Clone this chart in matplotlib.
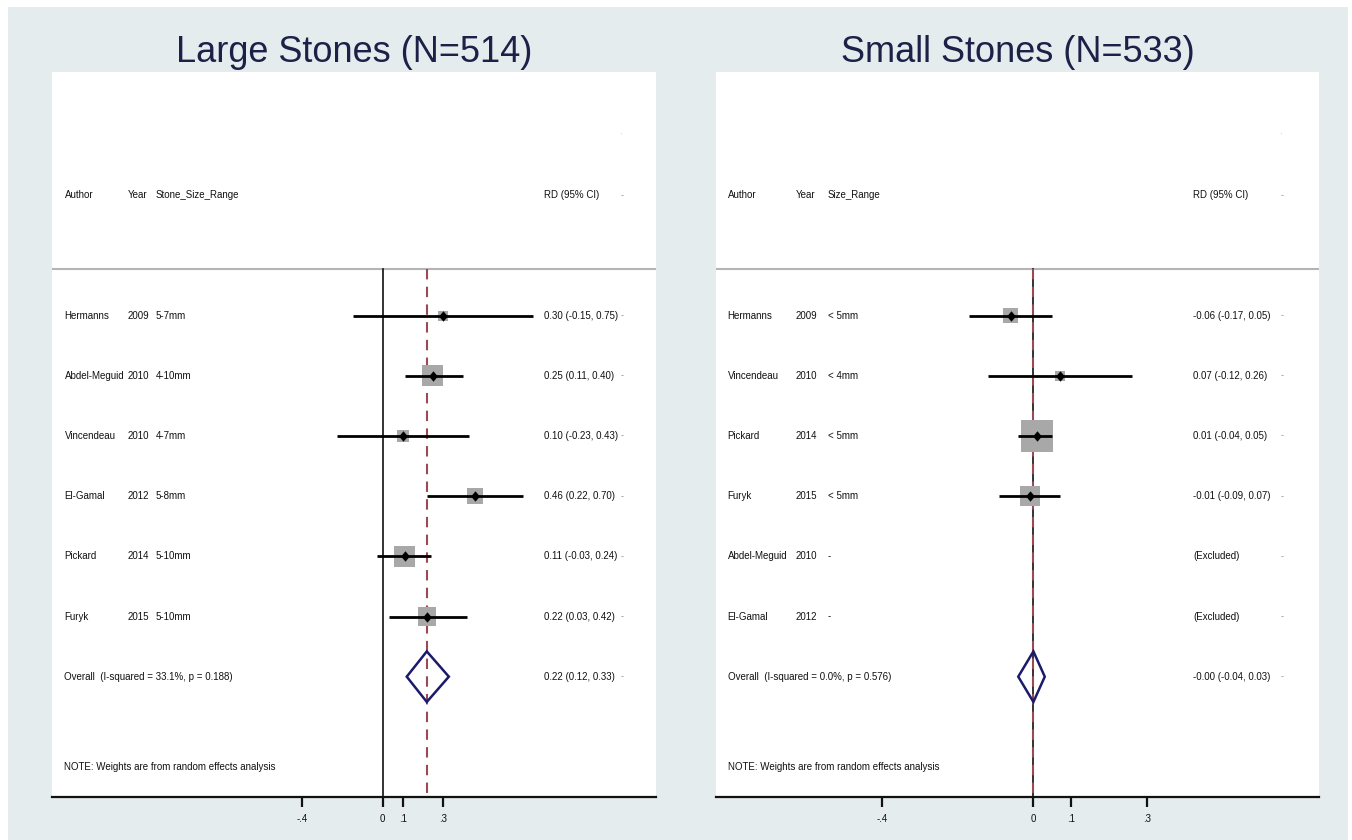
import matplotlib
matplotlib.use("Agg")
import matplotlib.pyplot as plt
from matplotlib import font_manager
from matplotlib.patches import Rectangle, Polygon
from matplotlib.path import Path
import matplotlib.transforms as mtransforms
import numpy as np

# ---------------- data ----------------
large_title = "Large Stones (N=514)"
large_authors = ["Hermanns", "Abdel-Meguid", "Vincendeau", "El-Gamal", "Pickard", "Furyk"]
large_years = ["2009", "2010", "2010", "2012", "2014", "2015"]
large_ranges = ["5-7mm", "4-10mm", "4-7mm", "5-8mm", "5-10mm", "5-10mm"]
large_rd = [0.30, 0.25, 0.10, 0.46, 0.11, 0.22]
large_lo = [-0.15, 0.11, -0.23, 0.22, -0.03, 0.03]
large_hi = [0.75, 0.40, 0.43, 0.70, 0.24, 0.42]
large_weight = [5.9, 25.2, 8.1, 15.2, 26.2, 19.3]
large_overall = (0.22, 0.12, 0.33)
large_overall_label = "Overall  (I-squared = 33.1%, p = 0.188)"
large_range_header = "Stone_Size_Range"
large_ticks = [-0.4, 0, 0.1, 0.3]
large_ticklabels = ["-.4", "0", ".1", ".3"]

small_title = "Small Stones (N=533)"
small_authors = ["Hermanns", "Vincendeau", "Pickard", "Furyk", "Abdel-Meguid", "El-Gamal"]
small_years = ["2009", "2010", "2014", "2015", "2010", "2012"]
small_ranges = ["< 5mm", "< 4mm", "< 5mm", "< 5mm", "-", "-"]
small_rd = [-0.06, 0.07, 0.01, -0.01, None, None]
small_lo = [-0.17, -0.12, -0.04, -0.09, None, None]
small_hi = [0.05, 0.26, 0.05, 0.07, None, None]
small_weight = [12.0, 5.3, 60.2, 22.4, None, None]
small_overall = (-0.00, -0.04, 0.03)
small_overall_label = "Overall  (I-squared = 0.0%, p = 0.576)"
small_range_header = "Size_Range"
small_ticks = [-0.4, 0, 0.1, 0.3]
small_ticklabels = ["-.4", "0", ".1", ".3"]

note_text = "NOTE: Weights are from random effects analysis"

# ---------------- fonts ----------------
avail = {f.name for f in font_manager.fontManager.ttflist}
if "Liberation Sans Narrow" in avail:
    small_font = ["Liberation Sans Narrow", "DejaVu Sans"]
else:
    small_font = ["Liberation Sans", "DejaVu Sans"]
title_font = ["Liberation Sans", "DejaVu Sans"]

BG = "#E5ECEE"
NAVY = "#1C2148"
DIAM = "#1B1B6B"
SQ = "#A8A8A8"
DASH = "#9A4A57"
MINUS = "#8E8E8E"

W, H = 1352, 840
fig = plt.figure(figsize=(W / 100, H / 100), dpi=100)
fig.patch.set_facecolor("white")
fig.patches.append(Rectangle((8 / W, 0), (1348 - 8) / W, (840 - 7) / H,
                             transform=fig.transFigure, facecolor=BG,
                             edgecolor="none", zorder=-10))

diamond_marker = Path([(0, 1), (0.85, 0), (0, -1), (-0.85, 0), (0, 1)],
                      [Path.MOVETO, Path.LINETO, Path.LINETO, Path.LINETO, Path.CLOSEPOLY])


def fmt(v):
    return f"{v:.2f}"


def panel(rect, xlim, title, authors, years, ranges, rd, lo, hi, wts,
          overall, overall_label, range_header, ticks, ticklabels, cols):
    ax = fig.add_axes(rect)
    ax.set_facecolor("white")
    n = len(authors)
    rows = np.arange(n)
    y_over = n
    y_note = n + 1.5
    y_head = -2.0
    y_sep = -0.78
    y_dot = -3.0
    ax.set_xlim(*xlim)
    ax.set_ylim(n + 2.0, -4.05)
    for s in ["left", "right", "top"]:
        ax.spines[s].set_visible(False)
    ax.spines["bottom"].set_linewidth(1.6)
    ax.spines["bottom"].set_color("#111111")
    ax.set_yticks([])
    ax.set_xticks(ticks)
    ax.set_xticklabels(ticklabels, fontsize=7, family=small_font)
    ax.tick_params(axis="x", length=7, width=1.6, pad=5, colors="#111111")

    tr = mtransforms.blended_transform_factory(ax.transAxes, ax.transData)
    c_auth, c_year, c_range, c_rd, c_dash = cols
    tkw = dict(fontsize=7, family=small_font, color="#111111", va="center", ha="left")
    mkw = dict(fontsize=6.5, family=small_font, color=MINUS, va="center", ha="left")

    # separator
    ax.plot([0, 1], [y_sep, y_sep], transform=tr, color="#B4B4B4", lw=1.5,
            solid_capstyle="butt", clip_on=False, zorder=2)
    # reference lines
    ax.plot([0, 0], [y_sep, n + 2.0], color="#111111", lw=1.2, zorder=3)
    ax.plot([overall[0], overall[0]], [y_sep, n + 2.0], color=DASH, lw=1.5,
            dashes=(5, 3.5), zorder=4)

    # header
    ax.text(c_auth, y_head, "Author", transform=tr, **tkw)
    ax.text(c_year, y_head, "Year", transform=tr, **tkw)
    ax.text(c_range, y_head, range_header, transform=tr, **tkw)
    ax.text(c_rd, y_head, "RD (95% CI)", transform=tr, **tkw)
    ax.text(c_dash, y_head, "-", transform=tr, **mkw)
    ax.text(c_dash, y_dot, "'", transform=tr, fontsize=4, family=small_font,
            color="#BBBBBB", va="center", ha="left")

    for i in range(n):
        y = rows[i]
        ax.text(c_auth, y, authors[i], transform=tr, **tkw)
        ax.text(c_year, y, years[i], transform=tr, **tkw)
        ax.text(c_range, y, ranges[i], transform=tr, **tkw)
        ax.text(c_dash, y, "-", transform=tr, **mkw)
        if rd[i] is None:
            ax.text(c_rd, y, "(Excluded)", transform=tr, **tkw)
            continue
        ax.text(c_rd, y, f"{fmt(rd[i])} ({fmt(lo[i])}, {fmt(hi[i])})", transform=tr, **tkw)
        side_pt = 4.2 * np.sqrt(wts[i]) * 0.72
        ax.scatter([rd[i]], [y], marker="s", s=side_pt ** 2, color=SQ,
                   edgecolors="none", zorder=5)
        ax.plot([lo[i], hi[i]], [y, y], color="black", lw=2.0,
                solid_capstyle="butt", zorder=6)
        ax.plot([rd[i]], [y], marker=diamond_marker, ms=7.5, color="black",
                markeredgewidth=0, zorder=7)

    # overall
    est, olo, ohi = overall
    ax.add_patch(Polygon([[olo, y_over], [est, y_over - 0.42], [ohi, y_over],
                          [est, y_over + 0.42]], closed=True, fill=False,
                         edgecolor=DIAM, lw=1.8, zorder=8))
    ax.text(c_auth, y_over, overall_label, transform=tr, **tkw)
    ax.text(c_rd, y_over, f"{fmt(est)} ({fmt(olo)}, {fmt(ohi)})", transform=tr, **tkw)
    ax.text(c_dash, y_over, "-", transform=tr, **mkw)
    ax.text(c_auth, y_note, note_text, transform=tr, **tkw)

    # title
    cx = rect[0] + rect[2] / 2
    fig.text(cx, (H - 62) / H, title, ha="center", va="baseline",
             fontsize=26, family=title_font, color=NAVY)
    return ax


bottom = (H - 797) / H
height = (797 - 72) / H

L0, L1 = 52, 656
panel([L0 / W, bottom, (L1 - L0) / W, height], (-1.649, 1.363),
      large_title, large_authors, large_years, large_ranges, large_rd,
      large_lo, large_hi, large_weight, large_overall, large_overall_label,
      large_range_header, large_ticks, large_ticklabels,
      [(64.5 - L0) / (L1 - L0), (127.7 - L0) / (L1 - L0), (155.7 - L0) / (L1 - L0),
       (544 - L0) / (L1 - L0), (621 - L0) / (L1 - L0)])

R0, R1 = 716, 1319
panel([R0 / W, bottom, (R1 - R0) / W, height], (-0.838, 0.754),
      small_title, small_authors, small_years, small_ranges, small_rd,
      small_lo, small_hi, small_weight, small_overall, small_overall_label,
      small_range_header, small_ticks, small_ticklabels,
      [(727.5 - R0) / (R1 - R0), (796 - R0) / (R1 - R0), (828 - R0) / (R1 - R0),
       (1193 - R0) / (R1 - R0), (1281 - R0) / (R1 - R0)])

fig.savefig("out.png", dpi=100, facecolor=fig.get_facecolor())
